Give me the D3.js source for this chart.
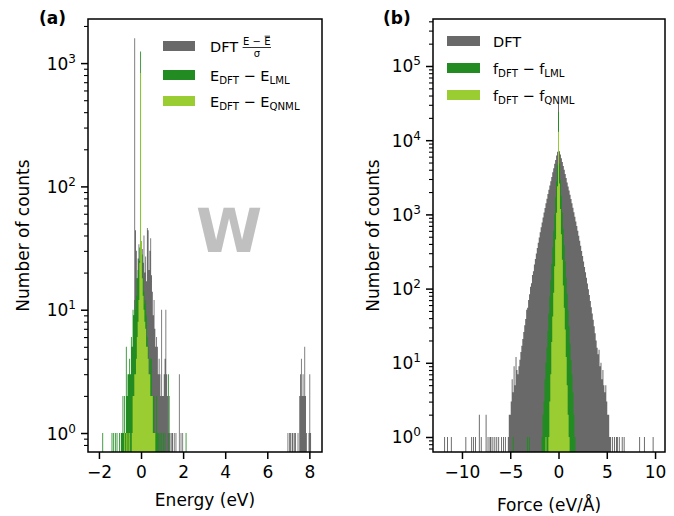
<!DOCTYPE html>
<html>
<head>
<meta charset="utf-8">
<script src="https://cdn.jsdelivr.net/npm/d3@7"></script>
<style>
  body { margin: 0; background: #fff; }
  svg { display: block; font-family: "DejaVu Sans", sans-serif; }
  text { white-space: pre; }
</style>
</head>
<body>
<svg id="chart" width="674" height="516"></svg>
<script>
// ---------------- data ----------------
// Histogram counts. Core arrays are contiguous bins starting at the given left edge;
// outlier lists hold isolated bins as [bin centre, count].
const energyBinWidth = 0.04;   // eV
const forceBinWidth = 0.1;     // eV/Å

// (a) energies
const energyDftStart = -0.60;
const energyDftCounts = [1, 0, 1, 2, 3, 5, 9, 1590, 44, 30, 18, 26, 34, 20, 28, 22, 31, 24, 40, 20,
  27, 17, 46, 44, 21, 30, 38, 19, 14, 9, 12, 7, 5, 6, 5, 3, 4, 3, 2, 10,
  2, 2, 3, 4, 10, 3, 2, 1, 2, 1, 0, 1, 1, 0, 1, 0, 1, 0, 0, 0,
  3, 0, 1, 0, 1];
const energyDftHighStart = 6.96;
const energyDftHighCounts = [1, 0, 1, 1, 0, 1, 1, 0, 1, 1, 0, 0, 1, 0, 2, 3, 4, 2, 3, 2,
  5, 2, 1, 0, 0, 1, 3, 1];

const energyLmlStart = -0.96;
const energyLmlCounts = [1, 1, 2, 1, 2, 1, 5, 2, 3, 3, 4, 3, 6, 5, 10, 9, 12, 10, 13, 18,
  21, 25, 32, 1240, 36, 28, 18, 14, 11, 12, 9, 6, 5, 4, 3, 4, 4, 2, 2, 2,
  1, 1, 2, 1, 1, 0, 1, 0, 1, 0, 1, 0, 1];
const energyLmlOutliers = [[-1.82, 1], [-1.38, 1], [-1.30, 1], [-1.22, 1], [-1.14, 1], [-1.02, 1], [1.30, 3], [2.14, 1]];

const energyQnmlStart = -0.44;
const energyQnmlCounts = [1, 2, 2, 3, 3, 4, 6, 8, 12, 24, 830, 36, 18, 13, 10, 8, 7, 5, 5, 4,
  3, 3, 2, 2, 2, 1, 1, 1];
const energyQnmlOutliers = [[-0.78, 1], [-0.70, 1], [-0.62, 1], [-0.54, 1]];

// (b) forces
const forceDftStart = -5.25;
const forceDftCounts = [1, 2, 2, 3, 6, 4, 9, 5, 12, 8, 7, 9, 11, 14, 17, 21, 26, 32, 39, 52,
  55, 70, 84, 106, 118, 152, 171, 212, 250, 298, 352, 415, 490, 575, 670, 780, 910, 1060, 1220, 1410,
  1620, 1880, 2150, 2450, 2800, 3200, 3700, 4200, 4800, 5400, 6200, 7000, 31000, 7100, 6400, 5700, 5100, 4500, 4000, 3500,
  3100, 2700, 2380, 2100, 1840, 1610, 1410, 1230, 1070, 930, 805, 695, 600, 515, 442, 378, 322, 274, 232, 196,
  166, 140, 117, 98, 82, 68, 56, 46, 38, 31, 25, 20, 16, 13, 15, 9, 10, 6, 8, 5,
  4, 5, 3, 2, 2, 1, 1];
const forceDftOutliers = [[-11.8, 1], [-11.5, 1], [-11.1, 1], [-9.6, 1], [-9.0, 1], [-8.8, 1], [-8.6, 1], [-8.2, 2],
  [-8.0, 1], [-7.5, 2], [-7.3, 1], [-7.1, 1], [-7.0, 1], [-6.8, 1], [-6.6, 1], [-6.4, 1], [-6.2, 1],
  [-5.9, 1], [-5.7, 1], [-5.5, 1], [5.6, 1], [5.8, 1], [6.0, 1], [6.1, 1], [6.3, 1], [6.6, 1], [6.8, 1],
  [8.4, 1], [8.9, 1], [9.8, 1]];

const forceLmlStart = -1.75;
const forceLmlCounts = [1, 2, 3, 6, 10, 16, 27, 46, 78, 130, 215, 360, 600, 1000, 1700, 2800, 4600, 24000, 4800, 2900,
  1750, 1060, 640, 385, 232, 140, 85, 51, 31, 18, 11, 7, 4, 2, 1];
const forceLmlOutliers = [[-4.7, 1], [-3.2, 1], [-3.0, 1]];

const forceQnmlStart = -1.05;
const forceQnmlCounts = [1, 3, 7, 19, 42, 88, 200, 460, 1050, 2400, 13000, 2600, 1180, 540, 245, 110, 55, 28, 12, 5,
  2, 1];
const forceQnmlOutliers = [[-1.3, 1]];

// ticks
const energyTicks = [-2, 0, 2, 4, 6, 8];
const forceTicks = [-10, -5, 0, 5, 10];
const energyDecades = [1, 10, 100, 1000];
const forceDecades = [1, 10, 100, 1000, 10000, 100000];

const colors = { dft: "dimgray", lml: "forestgreen", qnml: "yellowgreen" };

// ---------------- layout ----------------
const svg = d3.select("#chart");
const plotTop = 19, plotBottom = 452;
const FONT = '"DejaVu Sans", sans-serif';

const panels = [
  {
    key: "a", left: 88, right: 322,
    xDomain: [-2.52, 8.6], yDomain: [0.7015, 2278],
    xTicks: energyTicks, yMajor: energyDecades, binWidth: energyBinWidth,
    xTitle: "Energy (eV)", xTitleY: 506, yTitleX: 29, tagX: 39, tag: "(a)",
    series: [
      { color: colors.dft, segments: [[energyDftStart, energyDftCounts], [energyDftHighStart, energyDftHighCounts]], outliers: [] },
      { color: colors.lml, segments: [[energyLmlStart, energyLmlCounts]], outliers: energyLmlOutliers },
      { color: colors.qnml, segments: [[energyQnmlStart, energyQnmlCounts]], outliers: energyQnmlOutliers }
    ]
  },
  {
    key: "b", left: 433, right: 665,
    xDomain: [-13.0, 11.03], yDomain: [Math.pow(10, -0.2022), Math.pow(10, 5.6334)],
    xTicks: forceTicks, yMajor: forceDecades, binWidth: forceBinWidth,
    xTitle: "Force (eV/Å)", xTitleY: 511, yTitleX: 379, tagX: 383, tag: "(b)",
    series: [
      { color: colors.dft, segments: [[forceDftStart, forceDftCounts]], outliers: forceDftOutliers },
      { color: colors.lml, segments: [[forceLmlStart, forceLmlCounts]], outliers: forceLmlOutliers },
      { color: colors.qnml, segments: [[forceQnmlStart, forceQnmlCounts]], outliers: forceQnmlOutliers }
    ]
  }
];

// gather non-empty bins of one series, sorted by left edge
function collectBins(segments, outliers, w) {
  const bins = [];
  segments.forEach(([start, counts]) => {
    counts.forEach((c, i) => { if (c > 0) bins.push({ x0: start + i * w, x1: start + (i + 1) * w, c }); });
  });
  outliers.forEach(([m, c]) => bins.push({ x0: m - w / 2, x1: m + w / 2, c }));
  bins.sort((a, b) => a.x0 - b.x0);
  return bins;
}

// turn bins into step points, breaking the outline where bins are not adjacent
function stepPoints(bins) {
  const pts = [];
  bins.forEach((b, i) => {
    const prev = bins[i - 1];
    if (prev && Math.abs(prev.x1 - b.x0) > 1e-6) {
      pts.push({ x: prev.x1, c: prev.c });
      pts.push({ gap: true });
    }
    pts.push({ x: b.x0, c: b.c });
  });
  const last = bins[bins.length - 1];
  pts.push({ x: last.x1, c: last.c });
  return pts;
}

const fmtTick = d => (d < 0 ? "\u2212" + Math.abs(d) : String(d));

function drawPanel(p) {
  const x = d3.scaleLinear().domain(p.xDomain).range([p.left, p.right]);
  const y = d3.scaleLog().domain(p.yDomain).range([plotBottom, plotTop]);

  const clipId = "clip-" + p.key;
  svg.append("clipPath").attr("id", clipId).append("rect")
    .attr("x", p.left).attr("y", plotTop)
    .attr("width", p.right - p.left).attr("height", plotBottom - plotTop);

  const area = d3.area()
    .defined(d => !d.gap)
    .x(d => x(d.x))
    .y0(plotBottom)
    .y1(d => y(d.c))
    .curve(d3.curveStepAfter);

  const g = svg.append("g").attr("clip-path", `url(#${clipId})`);
  p.series.forEach(s => {
    const bins = collectBins(s.segments, s.outliers, p.binWidth);
    g.append("path").attr("d", area(stepPoints(bins))).attr("fill", s.color);
  });

  // x axis
  const xg = svg.append("g").attr("transform", `translate(0,${plotBottom})`)
    .call(d3.axisBottom(x).tickValues(p.xTicks).tickSize(7).tickPadding(7).tickFormat(fmtTick));
  xg.select(".domain").remove();
  xg.attr("font-size", 17).attr("font-family", FONT);
  xg.selectAll("line").attr("stroke", "#000").attr("stroke-width", 1.5);
  xg.selectAll("text").attr("fill", "#000");

  // y axis: minor ticks
  const [lo, hi] = p.yDomain;
  const minors = [];
  for (let k = -1; k <= 6; k++) {
    for (let m = 2; m <= 9; m++) {
      const v = m * Math.pow(10, k);
      if (v > lo * 1.001 && v < hi) minors.push(v);
    }
  }
  const ymg = svg.append("g").attr("transform", `translate(${p.left},0)`)
    .call(d3.axisLeft(y).tickValues(minors).tickSize(4).tickFormat(""));
  ymg.select(".domain").remove();
  ymg.selectAll("line").attr("stroke", "#000").attr("stroke-width", 1.1);

  // y axis: decades with power-of-ten labels
  const yg = svg.append("g").attr("transform", `translate(${p.left},0)`)
    .call(d3.axisLeft(y).tickValues(p.yMajor).tickSize(7).tickPadding(5).tickFormat(() => ""));
  yg.select(".domain").remove();
  yg.attr("font-size", 17).attr("font-family", FONT);
  yg.selectAll("line").attr("stroke", "#000").attr("stroke-width", 1.5);
  yg.selectAll(".tick text").each(function (d) {
    const t = d3.select(this);
    t.text(null).attr("dy", null).attr("y", 6).attr("fill", "#000");
    t.append("tspan").text("10");
    t.append("tspan").attr("font-size", 12).attr("dy", -7).text(Math.round(Math.log10(d)));
  });

  // frame
  svg.append("rect")
    .attr("x", p.left).attr("y", plotTop)
    .attr("width", p.right - p.left).attr("height", plotBottom - plotTop)
    .attr("fill", "none").attr("stroke", "#000").attr("stroke-width", 1.5);

  // titles
  svg.append("text")
    .attr("x", (p.left + p.right) / 2).attr("y", p.xTitleY)
    .attr("text-anchor", "middle").attr("font-size", 17).text(p.xTitle);
  svg.append("text")
    .attr("transform", `translate(${p.yTitleX},${(plotTop + plotBottom) / 2}) rotate(-90)`)
    .attr("text-anchor", "middle").attr("font-size", 17).text("Number of counts");
  svg.append("text")
    .attr("x", p.tagX).attr("y", 24)
    .attr("font-size", 17).attr("font-weight", "bold").text(p.tag);

  return { x, y };
}

panels.forEach(drawPanel);

// element label inside panel (a)
svg.append("text")
  .attr("x", 229).attr("y", 252)
  .attr("text-anchor", "middle")
  .attr("font-size", 60).attr("font-weight", "bold")
  .attr("fill", "#c0c0c0")
  .text("W");

// ---------------- legends ----------------
const LEG = 14.5, SUB = 10.2;

function richText(x, y, parts) {
  const t = svg.append("text").attr("x", x).attr("y", y).attr("font-size", LEG);
  let shift = 0;
  parts.forEach(([str, sub]) => {
    const target = sub ? 3 : 0;
    t.append("tspan")
      .attr("font-size", sub ? SUB : LEG)
      .attr("dy", target - shift)
      .text(str);
    shift = target;
  });
  return t;
}

function legendPatch(x, cy, w, color) {
  svg.append("rect").attr("x", x).attr("y", cy - 5).attr("width", w).attr("height", 10).attr("fill", color);
}

// (a)
legendPatch(163, 46, 32, colors.dft);
legendPatch(163, 75, 32, colors.lml);
legendPatch(163, 101, 32, colors.qnml);

const dftA = svg.append("text").attr("x", 210).attr("y", 51.5).attr("font-size", LEG).text("DFT");
{
  const fx = 210 + dftA.node().getComputedTextLength() + 5;
  const num = svg.append("text").attr("x", fx).attr("y", 45).attr("font-size", 10).text("E \u2212 E");
  const wn = num.node().getComputedTextLength();
  const probe = svg.append("text").attr("font-size", 10).text("E");
  const we = probe.node().getComputedTextLength();
  probe.remove();
  svg.append("line")
    .attr("x1", fx + wn - we + 0.5).attr("x2", fx + wn - 0.5)
    .attr("y1", 36.2).attr("y2", 36.2)
    .attr("stroke", "#000").attr("stroke-width", 0.8);
  svg.append("line")
    .attr("x1", fx - 0.5).attr("x2", fx + wn + 0.5)
    .attr("y1", 47.5).attr("y2", 47.5)
    .attr("stroke", "#000").attr("stroke-width", 0.8);
  svg.append("text").attr("x", fx + wn / 2).attr("y", 56.5)
    .attr("text-anchor", "middle").attr("font-size", 10).text("\u03c3");
}
richText(210, 80.5, [["E"], ["DFT", true], [" \u2212 E"], ["LML", true]]);
richText(210, 106.5, [["E"], ["DFT", true], [" \u2212 E"], ["QNML", true]]);

// (b)
legendPatch(447, 41, 33, colors.dft);
legendPatch(447, 68, 33, colors.lml);
legendPatch(447, 95, 33, colors.qnml);
svg.append("text").attr("x", 493).attr("y", 47).attr("font-size", LEG).text("DFT");
richText(493, 74, [["f"], ["DFT", true], [" \u2212 f"], ["LML", true]]);
richText(493, 101, [["f"], ["DFT", true], [" \u2212 f"], ["QNML", true]]);
</script>
</body>
</html>
